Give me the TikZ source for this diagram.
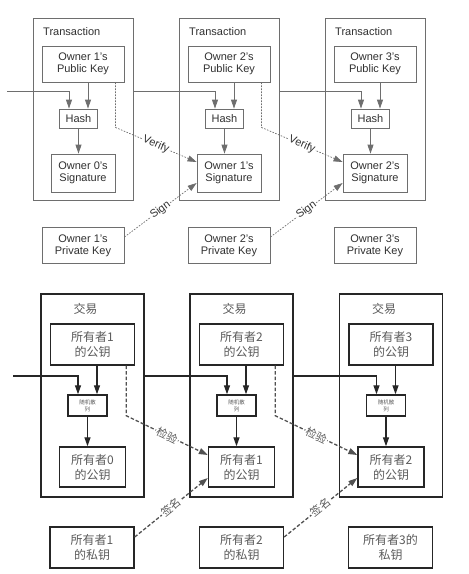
\documentclass[tikz,border=0pt]{standalone}
\usepackage{fontspec}
\setmainfont{Liberation Sans}
\newfontfamily\cjkfont{Noto Sans CJK SC}
\usetikzlibrary{arrows.meta}

\definecolor{linegray}{HTML}{6E6E6E}
\definecolor{textgray}{HTML}{303030}
\definecolor{cjkline}{HTML}{262626}
\definecolor{cjktext}{HTML}{5A5A5A}

\tikzset{
  % english half
  txbox/.style={draw=linegray,line width=.8pt,minimum width=100pt,minimum height=182pt,inner sep=0pt},
  keybox/.style={draw=linegray,line width=.8pt,minimum width=82pt,minimum height=36pt,inner sep=0pt,
    align=center,text=textgray,font=\fontsize{11}{12}\selectfont},
  sigbox/.style={keybox,minimum width=64pt,minimum height=38pt},
  hashbox/.style={keybox,minimum width=38pt,minimum height=19pt},
  titletext/.style={text=textgray,font=\fontsize{11}{12}\selectfont,inner sep=0pt},
  wire/.style={draw=linegray,line width=.8pt},
  tip/.tip={Triangle[length=9pt,width=6pt]},
  dashline/.style={draw=linegray,line width=.7pt,dash pattern=on 1.6pt off 1.4pt},
  lbl/.style={fill=white,inner sep=1pt,text=textgray,font=\fontsize{11}{12}\selectfont},
  % chinese half
  ctxbox/.style={draw=cjkline,line width=1.4pt,minimum width=103pt,minimum height=203pt,inner sep=0pt},
  ckeybox/.style={draw=cjkline,line width=1.4pt,minimum width=84pt,minimum height=41pt,inner sep=0pt,
    align=center,text=cjktext,font=\cjkfont\fontsize{12}{15}\selectfont},
  csigbox/.style={ckeybox,minimum width=66pt,minimum height=40pt},
  chashbox/.style={ckeybox,minimum width=39pt,minimum height=21pt,font=\cjkfont\fontsize{5.5}{7}\selectfont},
  ctitle/.style={text=cjktext,font=\cjkfont\fontsize{12}{14}\selectfont,inner sep=0pt},
  cwire/.style={draw=cjkline,line width=1.3pt},
  cdash/.style={draw=cjkline!80,line width=1.3pt,dash pattern=on 3.5pt off 2pt},
  clbl/.style={fill=white,inner sep=1pt,text=cjktext,font=\cjkfont\fontsize{11}{12}\selectfont},
}

\begin{document}
\begin{tikzpicture}[x=1pt,y=-1pt]
\useasboundingbox (0,0) rectangle (469,574);

% english transactions
\foreach \i/\x/\j in {1/83/0,2/229/1,3/375/2} {
  \node[txbox] (tx\i) at (\x,109) {};
  \node[titletext,anchor=west] (title\i) at (\x-40,32) {Transaction};
  \node[keybox] (pub\i) at (\x,64) {Owner \i's\\Public Key};
  \node[hashbox] (hash\i) at (\x-4.5,118.5) {Hash};
  \node[sigbox] (sig\i) at (\x,173) {Owner \j's\\Signature};
  \node[keybox] (priv\i) at (\x,245.5) {Owner \i's\\Private Key};
  \draw[wire,-tip] ([xshift=9.5pt]hash\i.north |- pub\i.south) -- ([xshift=9.5pt]hash\i.north);
  \draw[wire,-tip] (hash\i) -- (hash\i.south |- sig\i.north);
}

% chain of hashes
\coordinate (in0) at (7,91);
\draw[wire,-tip] (in0) -| ([xshift=-9.5pt]hash1.north);
\draw[wire,-tip] (tx1.east |- in0) -| ([xshift=-9.5pt]hash2.north);
\draw[wire,-tip] (tx2.east |- in0) -| ([xshift=-9.5pt]hash3.north);

% verify and sign
\draw[dashline,-tip] ([xshift=-9pt]pub1.south east) -- ++(0,45)
  -- node[sloped,lbl] (ver1) {Verify} ([yshift=11pt]sig2.west);
\draw[dashline,-tip] ([xshift=-9pt]pub2.south east) -- ++(0,45)
  -- node[sloped,lbl] (ver2) {Verify} ([yshift=11pt]sig3.west);
\draw[dashline,-tip] ([yshift=8.5pt]priv1.east) -- node[sloped,lbl] (sign1) {Sign} ([yshift=-10pt]sig2.west);
\draw[dashline,-tip] ([yshift=8.5pt]priv2.east) -- node[sloped,lbl] (sign2) {Sign} ([yshift=-10pt]sig3.west);

% chinese transactions
\foreach \i/\x/\j in {1/92.5/0,2/241.5/1,3/391/2} {
  \node[ctxbox] (ctx\i) at (\x,395.5) {};
  \node[ctitle] (ctitle\i) at (\x-7,309) {交易};
  \node[ckeybox] (cpub\i) at (\x,344.5) {所有者\i\\的公钥};
  \node[chashbox] (chash\i) at (\x-5,405.5) {随机散\\列};
  \node[csigbox] (csig\i) at (\x,467) {所有者\j\\的公钥};
  \draw[cwire,-tip] ([xshift=9.5pt]chash\i.north |- cpub\i.south) -- ([xshift=9.5pt]chash\i.north);
  \draw[cwire,-tip] (chash\i) -- (chash\i.south |- csig\i.north);
}
\node[ckeybox] (cpriv1) at (92,547.5) {所有者1\\的私钥};
\node[ckeybox] (cpriv2) at (241.5,547.5) {所有者2\\的私钥};
\node[ckeybox] (cpriv3) at (390.5,547.5) {所有者3的\\私钥};

% chain of hashes
\coordinate (cin0) at (13,376);
\draw[cwire,-tip] (cin0) -| ([xshift=-9.5pt]chash1.north);
\draw[cwire,-tip] (ctx1.east |- cin0) -| ([xshift=-9.5pt]chash2.north);
\draw[cwire,-tip] (ctx2.east |- cin0) -| ([xshift=-9.5pt]chash3.north);

% verify and sign
\draw[cdash,-tip] ([xshift=-9pt]cpub1.south east) -- ++(0,50)
  -- node[sloped,clbl] (cver1) {检验} ([yshift=12pt]csig2.west);
\draw[cdash,-tip] ([xshift=-9pt]cpub2.south east) -- ++(0,50)
  -- node[sloped,clbl] (cver2) {检验} ([yshift=12pt]csig3.west);
\draw[cdash,-tip] ([yshift=10.5pt]cpriv1.east) -- node[sloped,clbl] (csign1) {签名} ([yshift=-11pt]csig2.west);
\draw[cdash,-tip] ([yshift=10.5pt]cpriv2.east) -- node[sloped,clbl] (csign2) {签名} ([yshift=-11pt]csig3.west);

\end{tikzpicture}
\end{document}
